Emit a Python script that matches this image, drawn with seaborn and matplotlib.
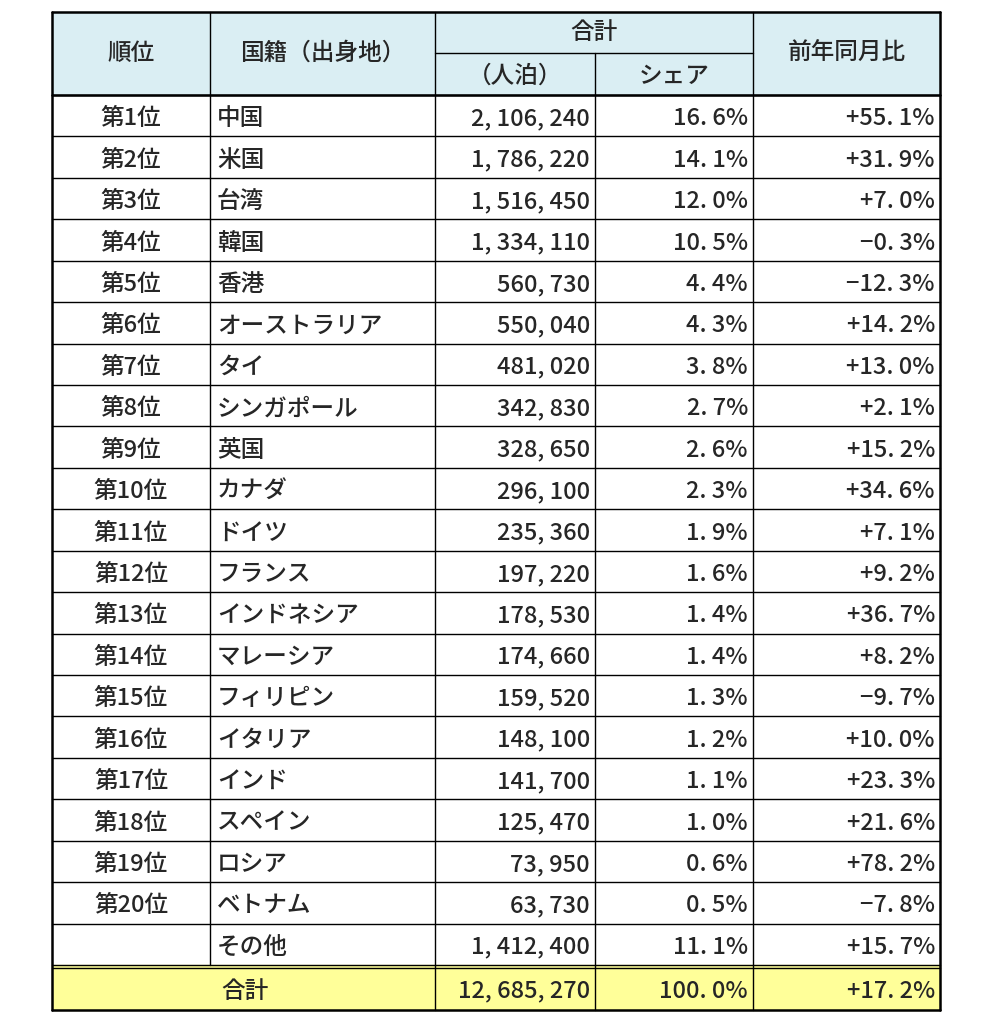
import matplotlib.pyplot as plt
import seaborn as sns

sns.set_theme(style="white", font="Noto Sans CJK JP")

ranks = [f"第{i}位" for i in range(1, 21)] + [""]
countries = ["中国", "米国", "台湾", "韓国", "香港", "オーストラリア", "タイ", "シンガポール",
             "英国", "カナダ", "ドイツ", "フランス", "インドネシア", "マレーシア", "フィリピン",
             "イタリア", "インド", "スペイン", "ロシア", "ベトナム", "その他"]
nights = [2106240, 1786220, 1516450, 1334110, 560730, 550040, 481020, 342830, 328650,
          296100, 235360, 197220, 178530, 174660, 159520, 148100, 141700, 125470,
          73950, 63730, 1412400]
share = [16.6, 14.1, 12.0, 10.5, 4.4, 4.3, 3.8, 2.7, 2.6, 2.3, 1.9, 1.6, 1.4, 1.4,
         1.3, 1.2, 1.1, 1.0, 0.6, 0.5, 11.1]
yoy = [55.1, 31.9, 7.0, -0.3, -12.3, 14.2, 13.0, 2.1, 15.2, 34.6, 7.1, 9.2, 36.7,
       8.2, -9.7, 10.0, 23.3, 21.6, 78.2, -7.8, 15.7]
total_nights = 12685270
total_share = 100.0
total_yoy = 17.2


def fmt_num(v):
    return f"{v:,}".replace(",", ", ")


def fmt_pct(v, sign=False):
    s = f"{v:+.1f}%" if sign else f"{v:.1f}%"
    return s.replace("-", "−").replace(".", ". ")


fig = plt.figure(figsize=(9.92, 10.24), dpi=100)
ax = fig.add_axes([0, 0, 1, 1])
ax.set_xlim(0, 992)
ax.set_ylim(1024, 0)
ax.axis("off")

xs = [52, 210, 435, 595, 753, 940]
top, hmid, hbot = 12, 53, 95
row_h = (965 - hbot) / 21
tot_top, tot_bot = 965, 1010
fs = 17
kw = dict(va="center", fontsize=fs, fontweight="medium")

ax.fill_between([xs[0], xs[-1]], top, hbot, color="#DAEEF3", zorder=0)
ax.fill_between([xs[0], xs[-1]], tot_top, tot_bot, color="#FFFF99", zorder=0)

# grid lines
for i in range(22):
    y = hbot + i * row_h
    ax.plot([xs[0], xs[-1]], [y, y], color="black", lw=1)
ax.plot([xs[2], xs[4]], [hmid, hmid], color="black", lw=1)
ax.plot([xs[0], xs[-1]], [hbot, hbot], color="black", lw=1.8)
ax.plot([xs[0], xs[-1]], [tot_top + 3, tot_top + 3], color="black", lw=1)
for j, x in enumerate(xs):
    if j in (0, 5):
        ax.plot([x, x], [top, tot_bot], color="black", lw=1.8)
    elif j == 1:
        ax.plot([x, x], [top, tot_top], color="black", lw=1)
    elif j == 3:
        ax.plot([x, x], [hmid, tot_bot], color="black", lw=1)
    else:
        ax.plot([x, x], [top, tot_bot], color="black", lw=1)
ax.plot([xs[0], xs[-1]], [top, top], color="black", lw=1.8)
ax.plot([xs[0], xs[-1]], [tot_bot, tot_bot], color="black", lw=1.8)

# headers
hy = (top + hbot) / 2
ax.text((xs[0] + xs[1]) / 2, hy, "順位", ha="center", **kw)
ax.text((xs[1] + xs[2]) / 2, hy, "国籍（出身地）", ha="center", **kw)
ax.text((xs[2] + xs[4]) / 2, (top + hmid) / 2, "合計", ha="center", **kw)
ax.text((xs[2] + xs[3]) / 2, (hmid + hbot) / 2 + 2, "（人泊）", ha="center", **kw)
ax.text((xs[3] + xs[4]) / 2, (hmid + hbot) / 2 + 2, "シェア", ha="center", **kw)
ax.text((xs[4] + xs[5]) / 2, hy, "前年同月比", ha="center", **kw)

for i in range(21):
    y = hbot + (i + 0.5) * row_h + 3
    ax.text((xs[0] + xs[1]) / 2, y, ranks[i], ha="center", **kw)
    ax.text(xs[1] + 7, y, countries[i], ha="left", **kw)
    ax.text(xs[3] - 5, y, fmt_num(nights[i]), ha="right", **kw)
    ax.text(xs[4] - 5, y, fmt_pct(share[i]), ha="right", **kw)
    ax.text(xs[5] - 5, y, fmt_pct(yoy[i], True), ha="right", **kw)

ty = (tot_top + 3 + tot_bot) / 2 + 2
ax.text(xs[1] + 35, ty, "合計", ha="center", **kw)
ax.text(xs[3] - 5, ty, fmt_num(total_nights), ha="right", **kw)
ax.text(xs[4] - 5, ty, fmt_pct(total_share), ha="right", **kw)
ax.text(xs[5] - 5, ty, fmt_pct(total_yoy, True), ha="right", **kw)

fig.savefig("out.png", dpi=100, facecolor="white")
